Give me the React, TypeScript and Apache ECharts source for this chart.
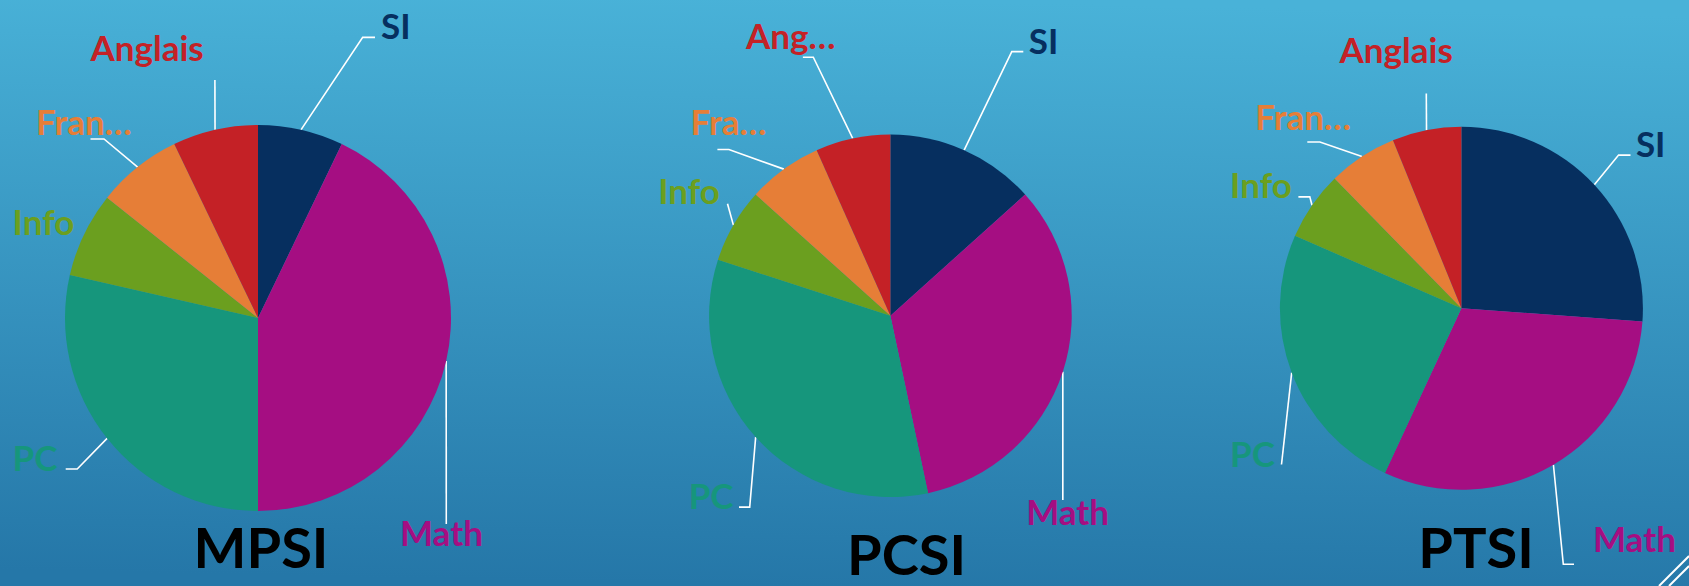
import React, { useEffect, useRef } from "react";
import * as echarts from "echarts";

// ---- Data ----
const subjects = ["SI", "Math", "PC", "Info", "Français", "Anglais"];
const subjectColors = ["#062F5F", "#A50E82", "#16967C", "#6B9F1F", "#E67E37", "#C42126"];

const classNames = ["MPSI", "PCSI", "PTSI"];
const mpsiHours = [2, 12, 8, 2, 2, 2];
const pcsiHours = [4, 10, 10, 2, 2, 2];
const ptsiHours = [8.5, 10, 8, 2, 2, 2];

// truncated labels as displayed
const mpsiLabels = ["SI", "Math", "PC", "Info", "Fran…", "Anglais"];
const pcsiLabels = ["SI", "Math", "PC", "Info", "Fra…", "Ang…"];
const ptsiLabels = ["SI", "Math", "PC", "Info", "Fran…", "Anglais"];

// ---- Layout (positions / styles only) ----
type Pt = [number, number];
type LabelSpec = { x: number; y: number; line: Pt[] | null };

const PIES = [
  { center: [258, 318], radius: 193, title: { x: 261, y: 546.5 } },
  { center: [890.4, 315.8], radius: 181.3, title: { x: 906.5, y: 553 } },
  { center: [1461.4, 308.3], radius: 181.5, title: { x: 1476, y: 546.5 } },
];

const LABEL_LAYOUTS: LabelSpec[][] = [
  [
    { x: 381, y: 25, line: [[362.7, 37.4], [375, 37.4]] },
    { x: 400, y: 531.5, line: [[446.3, 524], [446.3, 524]] },
    { x: 12.6, y: 457, line: [[77.2, 469], [65.7, 469]] },
    { x: 12.6, y: 221, line: null },
    { x: 36, y: 121, line: [[104, 139], [90.5, 139]] },
    { x: 90.5, y: 46.5, line: [[214.9, 80], [214.9, 80]] },
  ],
  [
    { x: 1028.7, y: 40.2, line: [[1011.8, 51.6], [1023.3, 51.6]] },
    { x: 1026.2, y: 510.5, line: [[1062.8, 500], [1062.8, 500]] },
    { x: 688.7, y: 495.4, line: [[749.7, 507.1], [739, 507.1]] },
    { x: 658.2, y: 190, line: [[727.5, 203.7], [727.5, 203.7]] },
    { x: 690.5, y: 120.5, line: [[728.9, 149.5], [717.4, 149.5]] },
    { x: 746, y: 35.1, line: [[813.3, 57.2], [802.9, 57.2]] },
  ],
  [
    { x: 1635.9, y: 142.9, line: [[1618.6, 155.1], [1630.5, 155.1]] },
    { x: 1593, y: 538, line: [[1563.3, 564.3], [1574, 564.3]] },
    { x: 1230.1, y: 452.8, line: [[1281.5, 464.5], [1281.5, 464.5]] },
    { x: 1230.1, y: 184.4, line: [[1309.8, 196.9], [1298.4, 196.9]] },
    { x: 1255.3, y: 116.4, line: [[1319.9, 142], [1307.3, 142]] },
    { x: 1339.6, y: 48.8, line: [[1426.3, 93.4], [1426.3, 93.4]] },
  ],
];

const FONT = "Lato, 'Open Sans', sans-serif";
const LABEL_SIZE = 35;
const TITLE_SIZE = 56;

export default function App() {
  const ref = useRef<HTMLDivElement>(null);

  useEffect(() => {
    if (!ref.current) return;
    const chart = echarts.init(ref.current, undefined, { renderer: "svg" });

    const allHours = [mpsiHours, pcsiHours, ptsiHours];
    const allLabels = [mpsiLabels, pcsiLabels, ptsiLabels];

    const series = allHours.map((hours, s) => ({
      type: "pie",
      name: classNames[s],
      center: PIES[s].center,
      radius: PIES[s].radius,
      startAngle: 90,
      clockwise: true,
      avoidLabelOverlap: false,
      silent: true,
      itemStyle: { borderWidth: 0 },
      label: {
        show: true,
        position: "outside",
        fontFamily: FONT,
        fontSize: LABEL_SIZE,
        fontWeight: "bold",
      },
      labelLine: {
        show: true,
        length: 10,
        length2: 10,
        smooth: false,
        lineStyle: { color: "#FFFFFF", width: 1.6 },
      },
      labelLayout: (params: any) => {
        const spec = LABEL_LAYOUTS[s][params.dataIndex];
        const start: Pt =
          params.labelLinePoints && params.labelLinePoints[0]
            ? [params.labelLinePoints[0][0], params.labelLinePoints[0][1]]
            : [spec.x, spec.y];
        const pts: Pt[] = spec.line ? [start, ...spec.line] : [start, start, start];
        return {
          x: spec.x,
          y: spec.y,
          align: "left",
          verticalAlign: "middle",
          labelLinePoints: pts,
        };
      },
      data: hours.map((v, i) => ({
        name: subjects[i],
        value: v,
        itemStyle: { color: subjectColors[i] },
        label: { formatter: allLabels[s][i], color: subjectColors[i] },
      })),
    }));

    const graphics: any[] = PIES.map((p, s) => ({
      type: "text",
      x: p.title.x,
      y: p.title.y,
      silent: true,
      style: {
        text: classNames[s],
        fill: "#000000",
        font: `bold ${TITLE_SIZE}px ${FONT}`,
        align: "center",
        verticalAlign: "middle",
      },
    }));
    graphics.push(
      {
        type: "line",
        silent: true,
        shape: { x1: 1689, y1: 556, x2: 1659, y2: 586 },
        style: { stroke: "#FFFFFF", lineWidth: 2 },
      },
      {
        type: "line",
        silent: true,
        shape: { x1: 1689, y1: 566, x2: 1669, y2: 586 },
        style: { stroke: "#FFFFFF", lineWidth: 2 },
      }
    );

    chart.setOption({
      animation: false,
      backgroundColor: new echarts.graphic.LinearGradient(0.53, 0, 0.47, 1, [
        { offset: 0, color: "#49B2D8" },
        { offset: 1, color: "#2577A8" },
      ]),
      series,
      graphic: graphics,
    });

    return () => chart.dispose();
  }, []);

  return (
    <div
      ref={ref}
      style={{ position: "fixed", left: 0, top: 0, width: 1689, height: 586 }}
    />
  );
}
